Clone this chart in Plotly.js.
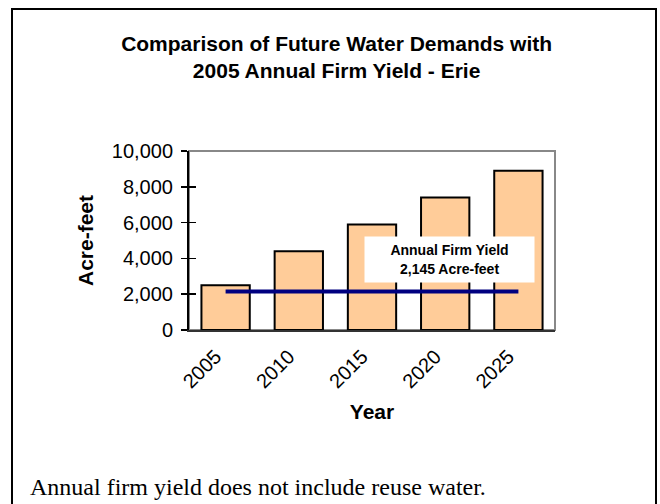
<!DOCTYPE html>
<html>
<head>
<meta charset="utf-8">
<script src="https://cdn.plot.ly/plotly-3.0.1.min.js"></script>
<style>
  html, body { margin: 0; padding: 0; background: #fff; }
  #wrap { position: relative; width: 660px; height: 504px; }
  #chart { width: 660px; height: 504px; }
  #frame { position: absolute; left: 11px; top: 8px; width: 642px; height: 520px;
           border: 2px solid #000; pointer-events: none; }
</style>
</head>
<body>
<div id="wrap">
  <div id="chart"></div>
  <div id="frame"></div>
</div>
<script>
// ---- data ----
const years = ["2005", "2010", "2015", "2020", "2025"];
const demands = [2500, 4400, 5900, 7400, 8900];
const firmYield = 2145;
const yieldLabel = ["Annual Firm Yield", "2,145 Acre-feet"];
const yTickVals = [0, 2000, 4000, 6000, 8000, 10000];
const chartTitle = ["Comparison of Future Water Demands with", "2005 Annual Firm Yield - Erie"];
const footnote = "Annual firm yield does not include reuse water.";

const yieldSeries = years.map(() => firmYield);

const traces = [
  {
    type: "bar",
    x: years,
    y: demands,
    marker: { color: "#FFCC99", line: { color: "#000", width: 2 } },
    hoverinfo: "x+y",
    showlegend: false
  },
  {
    type: "scatter",
    mode: "lines",
    x: years,
    y: yieldSeries,
    line: { color: "#000080", width: 4 },
    showlegend: false
  },
  {
    type: "scatter",
    x: years,
    y: demands,
    yaxis: "y2",
    mode: "none",
    hoverinfo: "skip",
    showlegend: false
  }
];

const ARIAL = "Arial, 'Liberation Sans', sans-serif";
const tickFont = { family: ARIAL, size: 20, color: "#000" };
const titleFont = { family: ARIAL, size: 21, color: "#000" };

const layout = {
  width: 660,
  height: 504,
  margin: { l: 189, r: 105, t: 151, b: 174 },
  paper_bgcolor: "#fff",
  plot_bgcolor: "#fff",
  bargap: 0.34,
  title: {
    text: "<b>" + chartTitle.join("<br>") + "</b>",
    font: { family: ARIAL, size: 21, color: "#000" },
    x: 0.51, xanchor: "center",
    yref: "container", y: 1 - 51 / 504, yanchor: "top"
  },
  xaxis: {
    type: "category",
    showline: true, linecolor: "#333", linewidth: 2,
    ticks: "", tickangle: -45,
    tickfont: tickFont,
    ticklabelstandoff: 5,
    ticklabelshift: -10,
    showgrid: false, zeroline: false,
    title: { text: "<b>Year</b>", font: titleFont, standoff: 13 },
    automargin: false
  },
  yaxis: {
    range: [0, 10000],
    tickvals: yTickVals,
    tickformat: ",",
    showline: true, linecolor: "#000", linewidth: 2,
    ticks: "outside", ticklen: 6, tickwidth: 1.5, tickcolor: "#000",
    tickfont: tickFont,
    ticklabelstandoff: 4,
    showgrid: false, zeroline: false,
    title: { text: "<b>Acre-feet</b>", font: titleFont, standoff: 12 },
    automargin: false
  },
  yaxis2: {
    overlaying: "y",
    side: "left",
    range: [0, 10000],
    tickvals: yTickVals,
    showticklabels: false,
    ticks: "inside", ticklen: 7, tickwidth: 1.5, tickcolor: "#000",
    showline: false, showgrid: false, zeroline: false
  },
  shapes: [
    { type: "rect", xref: "paper", yref: "paper", x0: 0, x1: 1, y0: 0, y1: 1,
      line: { color: "#888", width: 2 }, layer: "below" }
  ],
  annotations: [
    {
      xref: "paper", yref: "paper", x: 0.712, y: 0.394,
      xanchor: "center", yanchor: "middle",
      text: "<b>" + yieldLabel.join("<br>") + "</b>",
      font: { family: ARIAL, size: 14, color: "#000" },
      bgcolor: "#fff", borderpad: 0, width: 169, height: 45,
      showarrow: false
    },
    {
      xref: "paper", yref: "paper", x: (28 - 189) / 366, y: (330 - 487) / 179,
      xanchor: "left", yanchor: "middle",
      text: footnote,
      font: { family: "'Liberation Serif', 'Times New Roman', serif", size: 24, color: "#000" },
      showarrow: false
    }
  ]
};

Plotly.newPlot("chart", traces, layout, { displayModeBar: false, staticPlot: true });
</script>
</body>
</html>
